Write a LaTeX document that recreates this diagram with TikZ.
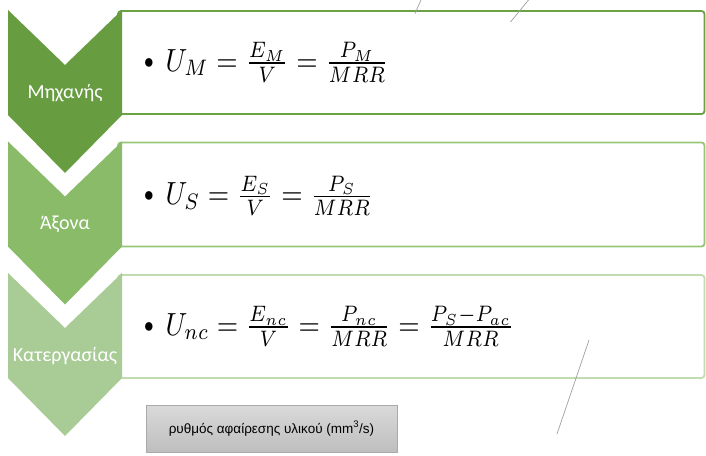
\documentclass[tikz,border=0pt]{standalone}
\usepackage{graphicx}
\usepackage{fontspec}
\setmainfont{Carlito}
\newfontfamily\boxfont{Liberation Sans}
\usetikzlibrary{calc}
\definecolor{chevA}{RGB}{103,157,64}
\definecolor{chevB}{RGB}{137,187,105}
\definecolor{chevC}{RGB}{169,203,150}
\definecolor{lineA}{RGB}{106,162,68}
\definecolor{lineB}{RGB}{150,198,120}
\definecolor{lineC}{RGB}{192,220,176}
\definecolor{leader}{RGB}{160,160,160}
\definecolor{boxtop}{RGB}{218,218,218}
\definecolor{boxbot}{RGB}{190,190,190}
\definecolor{boxline}{RGB}{170,170,170}
\tikzset{
  chevlabel/.style={text=white,font=\fontsize{20}{24}\selectfont,inner sep=0pt},
  stagebox/.style={draw=#1,line width=1.8pt,fill=white,rounded corners=3pt},
  formula/.style={anchor=base west,inner sep=0pt},
  leaderline/.style={draw=leader,line width=0.7pt},
}
\newcommand{\bigmath}[1]{\scalebox{2.75}[3.2]{\fontsize{10}{12}\selectfont\raisebox{0.9pt}{\scalebox{0.7}{$\bullet$}}\hspace{4.3pt}$#1$}}
\begin{document}
\begin{tikzpicture}[x=1pt,y=-1pt]
\useasboundingbox (0,0) rectangle (706,455);
% white boxes
\draw[stagebox=lineA] (118,11) rectangle (704.5,114);
\draw[stagebox=lineB] (118,142.5) rectangle (704.5,246.5);
\draw[stagebox=lineC] (118,275) rectangle (704.5,378);
% chevrons
\foreach \t/\c in {10/chevA,141.5/chevB,273/chevC}{
  \fill[\c] (8,\t) -- (65,\t+55) -- (122,\t) -- (122,\t+105) -- (65,\t+163) -- (8,\t+105) -- cycle;
}
\node[chevlabel] (lab1) at (65,93) {Μηχανής};
\node[chevlabel] (lab2) at (65,224) {Άξονα};
\node[chevlabel] (lab3) at (65,356) {Κατεργασίας};
% formulas
\node[formula] (f1) at (144,71) {\bigmath{U_M=\frac{E_M}{V}=\frac{P_M}{MRR}}};
\node[formula] (f2) at (144,204.5) {\bigmath{U_S=\frac{E_S}{V}=\frac{P_S}{MRR}}};
\node[formula] (f3) at (144,335) {\bigmath{U_{nc}=\frac{E_{nc}}{V}=\frac{P_{nc}}{MRR}=\frac{P_S-P_{ac}}{MRR}}};
% gray box
\node[draw=boxline,line width=0.6pt,top color=boxtop,bottom color=boxbot,
      minimum width=251pt,minimum height=47pt,inner sep=0pt,
      font=\boxfont\fontsize{13.5}{16}\selectfont] (mrr) at (271.5,428.5) {ρυθμός αφαίρεσης υλικού (mm\textsuperscript{3}/s)};
% leader lines
\coordinate (a1) at (421,0); \coordinate (a2) at (415,13.5);
\coordinate (b1) at (528.5,0); \coordinate (b2) at (510.5,22);
\coordinate (c1) at (589,340); \coordinate (c2) at (557,434);
\draw[leaderline] (a1) -- (a2);
\draw[leaderline] (b1) -- (b2);
\draw[leaderline] (c1) -- (c2);
\end{tikzpicture}
\end{document}
